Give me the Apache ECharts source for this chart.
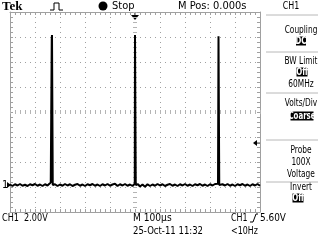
<!DOCTYPE html>
<html><head><meta charset="utf-8">
<script src="https://cdn.jsdelivr.net/npm/echarts@6/dist/echarts.min.js"></script>
<style>html,body{margin:0;padding:0;background:#fff}#c{width:320px;height:240px}</style>
</head><body><div id="c"></div>
<script>
// Trace: time in microseconds, voltage in volts (relative to ground)
const traceTime = [0,10,20,30,40,50,60,70,80,90,100,110,120,130,140,150,158,163,166,167,168,170,171,174,180,190,200,210,220,230,240,250,260,270,280,290,300,310,320,330,340,350,360,370,380,390,400,410,420,430,440,450,460,470,480,490,496,499,500,502,503,506,512,520,530,540,550,560,570,580,590,600,610,620,630,640,650,660,670,680,690,700,710,720,730,740,750,760,770,780,790,800,810,820,828,832,834,836,837,840,850,860,870,880,890,900,910,920,930,940,950,960,970,980,990,1000];
const traceVolt = [0.04,-0.08,0.06,-0.04,0.08,-0.06,0.02,-0.08,0.06,-0.02,0.08,-0.06,0.04,-0.08,0.06,-0.04,0.08,0.2,0.1,11.7,12.0,12.0,0,-0.1,0.06,-0.08,0.04,-0.06,0.08,-0.04,0.06,-0.08,0.02,0.08,-0.06,0.04,-0.08,0.06,-0.02,0.08,-0.06,0.04,-0.08,0.06,-0.04,0.08,-0.06,0.04,0.1,-0.08,0.06,-0.04,0.08,-0.06,0.04,-0.08,0.06,0.1,12.0,12.0,0,-0.1,0.06,-0.12,0.04,-0.14,0.06,-0.08,0.04,-0.06,0.08,-0.04,0.06,-0.08,0.02,0.08,-0.06,0.04,-0.08,0.06,-0.04,0.08,-0.06,0.04,-0.08,0.06,-0.02,0.08,-0.06,0.04,-0.08,0.06,-0.04,0.08,-0.06,0.1,11.9,12.0,0,-0.08,0.06,-0.04,0.08,-0.06,0.04,-0.08,0.06,-0.02,0.08,-0.06,0.04,-0.08,0.06,-0.04,0.08,-0.06];
const voltsPerDiv = 2.0;
const groundDiv = -2.92;      // channel position (divisions)
const timeRange = [0, 1000];  // 100 us/div x 10 div
const timeDiv = 100;
const divRange = [-4, 4];

const topLeftTexts = { brand: 'Tek', state: 'Stop', mpos: 'M Pos: 0.000s', menuTitle: 'CH1' };
const bottomTexts = { ch: 'CH1  2.00V', tb: 'M 100µs', trigCh: 'CH1', trigLvl: '5.60V', date: '25-Oct-11 11:32', freq: '<10Hz' };

const chart = echarts.init(document.getElementById('c'), null, {renderer:'canvas'});
const FONT = "'Liberation Sans Narrow','DejaVu Sans Condensed','Arial Narrow',sans-serif";
const GRID = '#a0a0a0';
const SEP = '#b8b8b8';

const data = traceTime.map((t,i)=>[t, traceVolt[i]/voltsPerDiv + groundDiv]);

function xAx(extra){
  return Object.assign({type:'value', min:timeRange[0], max:timeRange[1], interval:timeDiv,
    axisLabel:{show:false}, splitLine:{show:false},
    axisLine:{show:true, onZero:false, lineStyle:{color:GRID,width:1}},
    axisTick:{show:true, inside:true, length:3, lineStyle:{color:GRID}},
    minorTick:{show:true, splitNumber:5, length:3, lineStyle:{color:GRID}}}, extra);
}
function yAx(extra){
  return Object.assign({type:'value', min:divRange[0], max:divRange[1], interval:1,
    axisLabel:{show:false}, splitLine:{show:false},
    axisLine:{show:true, onZero:false, lineStyle:{color:GRID,width:1}},
    axisTick:{show:true, inside:true, length:3, lineStyle:{color:GRID}},
    minorTick:{show:true, splitNumber:5, length:3, lineStyle:{color:GRID}}}, extra);
}
const centerTicks = (inside)=>({
  offset: 0, axisLine:{show:false, onZero:false},
  axisTick:{show:true, inside:inside, length:2, lineStyle:{color:'#b4b4b4'}},
  minorTick:{show:true, splitNumber:5, length:2, lineStyle:{color:'#b4b4b4'}}
});

function txt(x,y,s,opt,sx){
  return {type:'text', x:x, y:y, scaleX:sx||1, silent:true,
    style:Object.assign({text:s, fill:'#000', font:'11px '+FONT, align:'left', verticalAlign:'middle'}, opt||{})};
}
function ctxt(y,s,sx){ return txt(301,y,s,{align:'center'},sx||0.75); }
function boxed(cx,y,w,s,sx){
  return [
    {type:'rect', shape:{x:cx-w/2, y:y-4.5, width:w, height:9}, style:{fill:'#000'}, silent:true},
    txt(cx,y+0.5,s,{fill:'#fff', align:'center', font:'bold 10px '+FONT}, sx||0.78)
  ];
}
function sep(y){
  return {type:'line', shape:{x1:266,y1:y,x2:318,y2:y}, style:{stroke:SEP, lineWidth:1}, silent:true};
}

const graphics = [
  txt(2,7,topLeftTexts.brand,{font:"bold 13px 'Liberation Serif','DejaVu Serif',serif"}),
  {type:'polyline', shape:{points:[[50,10],[54,10],[54,3],[59,3],[59,10],[63,10]]}, style:{stroke:'#000', lineWidth:1}, silent:true},
  {type:'circle', shape:{cx:103,cy:6,r:4.5}, style:{fill:'#000'}, silent:true},
  txt(112,6,topLeftTexts.state),
  txt(178,6,topLeftTexts.mpos),
  txt(291,6,topLeftTexts.menuTitle,{align:'center'},0.8),
  sep(15),
  ctxt(30,'Coupling'),
  ...boxed(301,41,10,'DC'),
  sep(52),
  ctxt(61,'BW Limit'),
  ...boxed(302,72,11,'Off'),
  ctxt(84,'60MHz'),
  sep(93),
  ctxt(103,'Volts/Div'),
  ...boxed(302,116,23,'Coarse'),
  sep(140),
  ctxt(150,'Probe'),
  ctxt(162,'100X'),
  ctxt(174,'Voltage'),
  sep(182),
  ctxt(187,'Invert'),
  ...boxed(298,198,11,'Off'),
  // trigger position marker (top)
  {type:'polygon', shape:{points:[[131,15],[139,15],[135,20]]}, style:{fill:'#000'}, silent:true},
  {type:'line', shape:{x1:135,y1:12,x2:135,y2:15}, style:{stroke:'#000',lineWidth:1}, silent:true},
  // trigger level marker (right)
  {type:'polygon', shape:{points:[[253,143],[257,140],[257,146]]}, style:{fill:'#000'}, silent:true},
  {type:'line', shape:{x1:257,y1:143,x2:260,y2:143}, style:{stroke:'#000',lineWidth:1}, silent:true},
  // ground marker
  txt(2,185,'1'),
  {type:'polygon', shape:{points:[[11,185],[7,182],[7,188]]}, style:{fill:'#000'}, silent:true},
  // bottom readouts
  txt(2,218,bottomTexts.ch,null,0.82),
  txt(133,218,bottomTexts.tb,null,0.92),
  txt(231,218,bottomTexts.trigCh,null,0.8),
  {type:'polyline', shape:{points:[[250,222],[253,222],[256,214],[258,214]]}, style:{stroke:'#000',lineWidth:1}, silent:true},
  txt(260,218,bottomTexts.trigLvl,null,0.9),
  txt(133,231,bottomTexts.date,null,0.86),
  txt(231,231,bottomTexts.freq,null,0.8)
];

chart.setOption({
  animation:false,
  backgroundColor:'#fff',
  grid:{left:10, top:12, width:250, height:200, containLabel:false},
  xAxis:[
    xAx({position:'bottom', splitLine:{show:true, lineStyle:{color:GRID, width:1, type:[1,4]}}}),
    xAx({position:'top'}),
    xAx(Object.assign({position:'bottom'}, centerTicks(true), {offset:-100})),
    xAx(Object.assign({position:'bottom'}, centerTicks(false), {offset:-100}))
  ],
  yAxis:[
    yAx({position:'left', splitLine:{show:true, lineStyle:{color:GRID, width:1, type:[1,4]}}}),
    yAx({position:'right'}),
    yAx(Object.assign({position:'left'}, centerTicks(true), {offset:-125})),
    yAx(Object.assign({position:'left'}, centerTicks(false), {offset:-125}))
  ],
  series:[{
    type:'line', xAxisIndex:0, yAxisIndex:0, data:data, showSymbol:false, symbol:'none',
    lineStyle:{color:'#000', width:2}, z:5, silent:true
  }],
  graphic:graphics
});
</script></body></html>
